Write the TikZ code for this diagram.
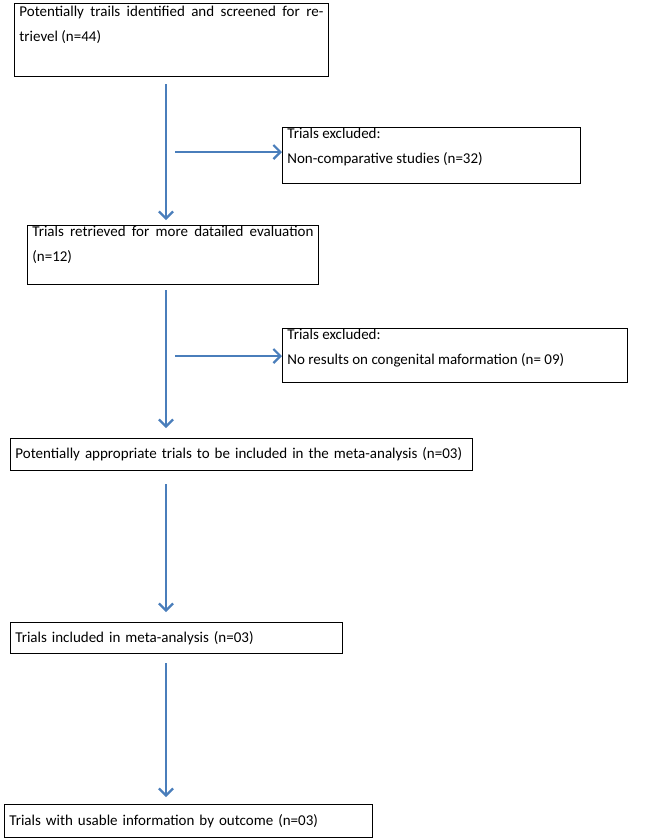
\documentclass[tikz,border=0pt]{standalone}
\usepackage{fontspec}
\setmainfont{Carlito}
\usetikzlibrary{arrows.meta}
\definecolor{arr}{HTML}{4A7EBB}
\newcommand{\topbox}[3]{\parbox[b][#1][t]{#2}{#3}}
\begin{document}
\begin{tikzpicture}[x=1pt,y=-1pt,
  box/.style={draw=black,line width=0.8pt,anchor=north west,inner xsep=5pt,inner ysep=3pt,font=\fontsize{15}{25}\selectfont,align=left},
  ar/.style={draw=arr,line width=2.6pt,-{Straight Barb[length=7pt,width=14pt,line width=2.2pt]}}]
\useasboundingbox (0,0) rectangle (655,839);
\node[box,inner ysep=0pt] (b1) at (14,3) {\topbox{73pt}{304pt}{\vspace{3pt}Potentially trails identified and screened for retrievel (n=44)}};
\node[box,inner ysep=0pt] (e1) at (282,127) {\topbox{56pt}{288pt}{\vspace{1pt}Trials excluded:\\Non-comparative studies (n=32)}};
\node[box,inner ysep=0pt] (b2) at (27,225) {\topbox{59pt}{281pt}{\vspace{1pt}Trials retrieved for more datailed evaluation (n=12)}};
\node[box,inner ysep=0pt] (e2) at (282,328) {\topbox{54pt}{335pt}{\vspace{1pt}Trials excluded:\\No results on congenital maformation (n= 09)}};
\node[box,text width=452pt,minimum height=32pt] (b3) at (10,438) {Potentially appropriate trials to be included in the meta-analysis (n=03)};
\node[box,text width=322pt,minimum height=31pt] (b4) at (10,622) {Trials included in meta-analysis (n=03)};
\node[box,text width=358pt,minimum height=33pt] (b5) at (4,804) {Trials with usable information by outcome (n=03)};
\coordinate (s1) at (166,84); \coordinate (t1) at (166,220);
\coordinate (h1) at (175,152);
\coordinate (s2) at (166,290); \coordinate (t2) at (166,428);
\coordinate (h2) at (175,356);
\coordinate (s3) at (166,484); \coordinate (t3) at (166,612);
\coordinate (s4) at (166,663); \coordinate (t4) at (166,797);
\draw[ar] (s1) -- (t1);
\draw[ar] (h1) -- (h1 -| e1.west);
\draw[ar] (s2) -- (t2);
\draw[ar] (h2) -- (h2 -| e2.west);
\draw[ar] (s3) -- (t3);
\draw[ar] (s4) -- (t4);
\end{tikzpicture}
\end{document}
